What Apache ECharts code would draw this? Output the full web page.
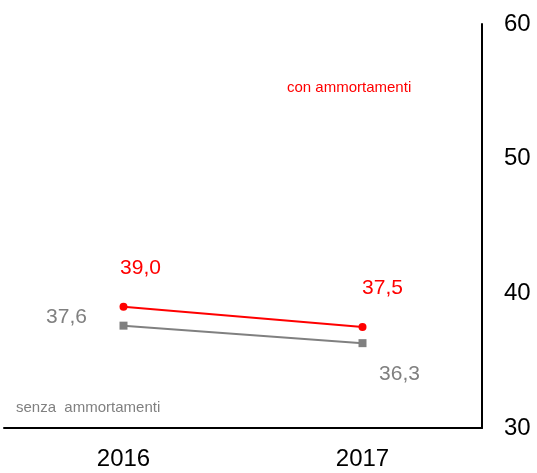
<!DOCTYPE html>
<html><head><meta charset="utf-8">
<script src="https://cdn.jsdelivr.net/npm/echarts@6/dist/echarts.min.js"></script>
<style>html,body{margin:0;padding:0;background:#fff}#c{width:537px;height:473px}</style>
</head><body><div id="c"></div>
<script>
const categories = ['2016', '2017'];
const conAmmortamenti = [39.0, 37.5];
const senzaAmmortamenti = [37.6, 36.3];
const yTicks = [30, 40, 50, 60];

const fmt = p => p.value.toFixed(1).replace('.', ',');
const chart = echarts.init(document.getElementById('c'));
chart.setOption({
  animation: false,
  grid: {left: 4, right: 55, top: 24, bottom: 45},
  xAxis: {
    type: 'category', data: categories, boundaryGap: true,
    axisLine: {lineStyle: {color: '#000', width: 2}},
    axisTick: {show: false},
    axisLabel: {color: '#000', fontSize: 24, fontFamily: 'Liberation Sans', margin: 19}
  },
  yAxis: {
    type: 'value', position: 'right', min: yTicks[0], max: yTicks[yTicks.length-1], interval: 10,
    axisLine: {show: true, lineStyle: {color: '#000', width: 2}},
    axisTick: {show: false}, splitLine: {show: false},
    axisLabel: {color: '#000', fontSize: 24, fontFamily: 'Liberation Sans', margin: 22}
  },
  graphic: [
    {type: 'text', left: 287, top: 80, style: {text: 'con ammortamenti', fill: '#ff0000', font: '15px "Liberation Sans"'}},
    {type: 'text', left: 16, top: 400, style: {text: 'senza  ammortamenti', fill: '#808080', font: '15px "Liberation Sans"'}}
  ],
  series: [
    {
      type: 'line', name: 'senza ammortamenti',
      data: senzaAmmortamenti.map((v, i) => ({value: v, label: {offset: i === 0 ? [-57, 11] : [37, 51]}})),
      symbol: 'rect', symbolSize: 8,
      lineStyle: {color: '#808080', width: 2}, itemStyle: {color: '#808080'},
      label: {show: true, position: 'top', formatter: fmt, color: '#808080', fontSize: 21, fontFamily: 'Liberation Sans'}
    },
    {
      type: 'line', name: 'con ammortamenti',
      data: conAmmortamenti.map((v, i) => ({value: v, label: {offset: [i === 0 ? 17 : 20, -19]}})),
      symbol: 'circle', symbolSize: 8,
      lineStyle: {color: '#ff0000', width: 2}, itemStyle: {color: '#ff0000'},
      label: {show: true, position: 'top', formatter: fmt, color: '#ff0000', fontSize: 21, fontFamily: 'Liberation Sans'}
    }
  ]
});
</script></body></html>
